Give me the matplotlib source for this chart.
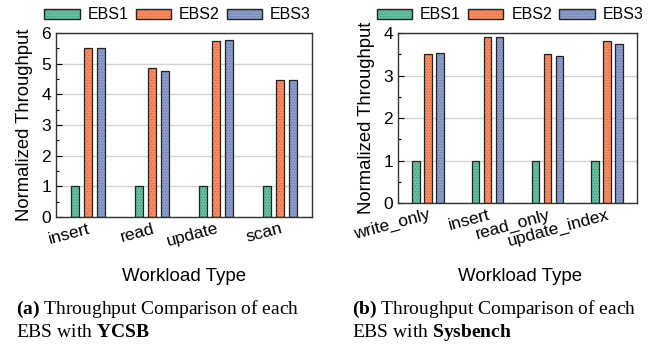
import numpy as np
import matplotlib
matplotlib.use("Agg")
import matplotlib.pyplot as plt
import matplotlib.transforms as mtransforms
from matplotlib.patches import Patch
from matplotlib.legend_handler import HandlerTuple

# data
series = ["EBS1", "EBS2", "EBS3"]
ycsb_workloads = ["insert", "read", "update", "scan"]
ycsb_ebs1 = [1.0, 1.0, 1.0, 1.0]
ycsb_ebs2 = [5.50, 4.87, 5.73, 4.48]
ycsb_ebs3 = [5.52, 4.77, 5.78, 4.47]

sys_workloads = ["write_only", "insert", "read_only", "update_index"]
sys_ebs1 = [1.0, 1.0, 1.0, 1.0]
sys_ebs2 = [3.50, 3.90, 3.50, 3.82]
sys_ebs3 = [3.53, 3.90, 3.47, 3.75]

colors = ["#66c2a5", "#fc8d62", "#8da0cb"]
dots = ["#3f9a7c", "#d3693f", "#6576a6"]

plt.rcParams["font.family"] = ["Liberation Sans", "DejaVu Sans"]
plt.rcParams["hatch.linewidth"] = 0.6
plt.rcParams["mathtext.fontset"] = "custom"
plt.rcParams["mathtext.rm"] = "Liberation Serif"
plt.rcParams["mathtext.bf"] = "Liberation Serif:bold"

fig = plt.figure(figsize=(6.55, 3.46), dpi=100)
ax1 = fig.add_axes([0.0855, 0.3728, 0.391, 0.5318])
ax2 = fig.add_axes([0.6076, 0.4133, 0.365, 0.4913])


def draw(ax, labels, vals, ymax):
    x = np.arange(len(labels))
    w = 0.125
    offs = [-0.2, 0.0, 0.2]
    for i, v in enumerate(vals):
        ax.bar(x + offs[i], v, w, color=colors[i], hatch="......",
               edgecolor=dots[i], linewidth=0, zorder=2)
        ax.bar(x + offs[i], v, w, color="none", edgecolor="#222222",
               linewidth=0.9, zorder=3)
    ax.set_xlim(-0.5, len(labels) - 0.5)
    ax.set_ylim(0, ymax)
    ax.set_yticks(range(0, ymax + 1))
    ax.set_yticks(np.arange(0, ymax + 0.01, 0.5), minor=True)
    ax.yaxis.grid(True, color="#d4d4d4", linewidth=1.0, zorder=0)
    ax.set_axisbelow(True)
    ax.set_xticks(x)
    ax.set_xticklabels(labels, rotation=15, ha="right", fontsize=12.5)
    ax.tick_params(axis="x", length=0, pad=3)
    shift = mtransforms.ScaledTranslation(4 / 100, 0, fig.dpi_scale_trans)
    for t in ax.get_xticklabels():
        t.set_transform(t.get_transform() + shift)
    ax.tick_params(axis="y", which="major", direction="in", length=4,
                   labelsize=12.5, width=0.8)
    ax.tick_params(axis="y", which="minor", direction="in", length=2,
                   width=0.8)
    for s in ax.spines.values():
        s.set_color("#333333")
        s.set_linewidth(1.0)
    ax.set_ylabel("Normalized Throughput", fontsize=13.3, labelpad=6)

    handles = []
    for i in range(3):
        handles.append((Patch(facecolor=colors[i], hatch="......",
                              edgecolor=dots[i], linewidth=0),
                        Patch(facecolor="none", edgecolor="#222222",
                              linewidth=1.0)))
    return handles


h = draw(ax1, ycsb_workloads, [ycsb_ebs1, ycsb_ebs2, ycsb_ebs3], 6)
draw(ax2, sys_workloads, [sys_ebs1, sys_ebs2, sys_ebs3], 4)

for ax, cx in [(ax1, 0.271), (ax2, 0.779)]:
    ax.legend(h, series, handler_map={tuple: HandlerTuple(ndivide=1)},
              loc="center", bbox_to_anchor=(cx, 0.957),
              bbox_transform=fig.transFigure, ncol=3, frameon=False,
              fontsize=11.5, handlelength=2.2, handleheight=0.6,
              columnspacing=0.45, handletextpad=0.5, borderpad=0)

fig.text(0.281, 0.200, "Workload Type", ha="center", va="center", fontsize=13.5)
fig.text(0.794, 0.200, "Workload Type", ha="center", va="center", fontsize=13.5)

cap_kw = dict(ha="left", va="center", fontsize=14.0, family="Liberation Serif")
fig.text(0.024, 0.105, r"$\mathbf{(a)}$ Throughput Comparison of each", **cap_kw)
fig.text(0.024, 0.040, r"EBS with $\mathbf{YCSB}$", **cap_kw)
fig.text(0.537, 0.105, r"$\mathbf{(b)}$ Throughput Comparison of each", **cap_kw)
fig.text(0.537, 0.040, r"EBS with $\mathbf{Sysbench}$", **cap_kw)

fig.savefig("out.png", dpi=100)
